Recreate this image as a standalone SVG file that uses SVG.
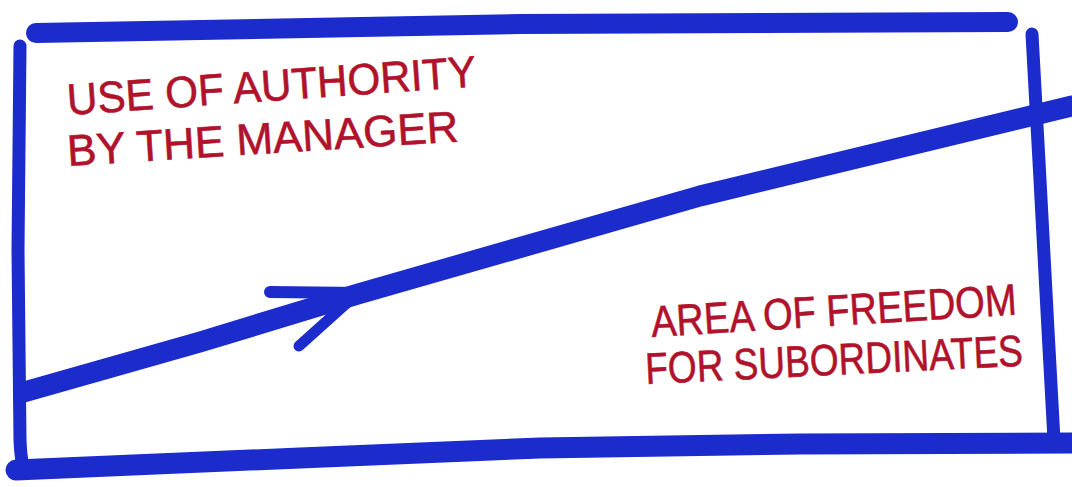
<svg xmlns="http://www.w3.org/2000/svg" width="1072" height="487" viewBox="0 0 1072 487">
<style>
.pen{fill:none;stroke:#1c2bcc;stroke-linecap:round;stroke-linejoin:round}
.lbl{font-family:"Liberation Sans",Arial,sans-serif;font-size:44px;fill:#b0122c;stroke:#b0122c;stroke-width:0.6}
</style>
<rect width="1072" height="487" fill="#ffffff"/>
<g id="frame">
<path class="pen" stroke-width="20" d="M36,33 L520,24 L1008,22"/>
<path class="pen" stroke-width="13" d="M20,46 L18,250 L20,440 Q21,462 24,468"/>
<path class="pen" stroke-width="21" d="M16,470 L300,458 L540,448 L800,444 L1072,443"/>
<path class="pen" stroke-width="13" d="M1032,34 L1040,180 L1048,330 L1054,440"/>
</g>
<g id="connectors">
<path class="pen" stroke-width="21" d="M24,392 L200,342 L358,294 L700,196 L1072,106"/>
<path class="pen" stroke-width="12" d="M360,293 L270,292"/>
<path class="pen" stroke-width="11" d="M348,302 L299,346"/>
</g>
<g id="label-authority">
<text class="lbl" transform="rotate(-4 68 115)" x="68" y="115" textLength="410" lengthAdjust="spacingAndGlyphs">USE OF AUTHORITY</text>
<text class="lbl" transform="rotate(-3.6 68 166)" x="68" y="166" textLength="392" lengthAdjust="spacingAndGlyphs">BY THE MANAGER</text>
</g>
<g id="label-freedom">
<text class="lbl" transform="rotate(-3.5 652 337)" x="652" y="337" textLength="366" lengthAdjust="spacingAndGlyphs">AREA OF FREEDOM</text>
<text class="lbl" transform="rotate(-2.8 646 384)" x="646" y="384" textLength="378" lengthAdjust="spacingAndGlyphs">FOR SUBORDINATES</text>
</g>
</svg>
